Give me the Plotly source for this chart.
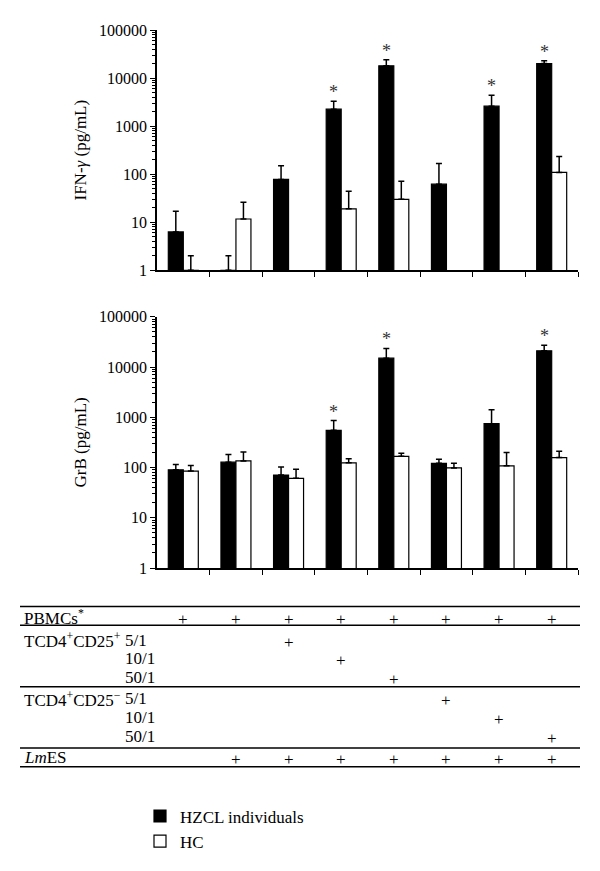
import math
import plotly.graph_objects as go

# conditions (8 culture conditions along x)
conds = list(range(8))

# IFN-gamma (pg/mL): bar height and top of error bar
hzcl_ifn = [6.3, 1, 78, 2250, 18000, 62, 2600, 20000]
hzcl_ifn_top = [17, 2, 150, 3300, 24000, 166, 4400, 23000]
hc_ifn = [1, 11.7, None, 19, 30, None, None, 109]
hc_ifn_top = [2, 26, None, 44, 71, None, None, 233]

# GrB (pg/mL)
hzcl_grb = [90, 128, 71, 550, 15000, 121, 745, 21000]
hzcl_grb_top = [115, 181, 102, 860, 23500, 146, 1420, 27000]
hc_grb = [85, 135, 61, 124, 167, 98, 108, 158]
hc_grb_top = [110, 204, 92, 150, 192, 122, 200, 210]

# significant conditions (*)
sig_ifn = [3, 4, 6, 7]
sig_grb = [3, 4, 7]

# table under the chart
row_labels = ["PBMCs<sup>*</sup>", "TCD4<sup>+</sup>CD25<sup>+</sup>", "", "",
              "TCD4<sup>+</sup>CD25<sup>−</sup>", "", "", "<i>Lm</i>ES"]
row_ratios = ["", "5/1", "10/1", "50/1", "5/1", "10/1", "50/1", ""]
row_marks = [
    [1, 1, 1, 1, 1, 1, 1, 1],
    [0, 0, 1, 0, 0, 0, 0, 0],
    [0, 0, 0, 1, 0, 0, 0, 0],
    [0, 0, 0, 0, 1, 0, 0, 0],
    [0, 0, 0, 0, 0, 1, 0, 0],
    [0, 0, 0, 0, 0, 0, 1, 0],
    [0, 0, 0, 0, 0, 0, 0, 1],
    [0, 1, 1, 1, 1, 1, 1, 1],
]

# page body has an 8px margin, so the figure is drawn 8px smaller
OFF = 8
W, H = 600 - OFF, 871 - OFF
ML, MR, MT, MB = 157 - OFF, 22, 30 - OFF, 871 - 574
FONT = "Liberation Serif"
bargap = 0.43


def px(x):
    return (x - OFF - ML) / (W - ML - MR)


def py(y):
    return (H - MB - (y - OFF)) / (H - MT - MB)


def err(vals, tops):
    return [t - v if v is not None else 0 for v, t in zip(vals, tops)]


fig = go.Figure()

def add_bars(vals, tops, color, name, xa, ya, show):
    fig.add_trace(go.Bar(
        x=conds, y=vals, name=name, xaxis=xa, yaxis=ya, showlegend=show,
        offsetgroup=name, legendgroup=name,
        marker=dict(color=color, line=dict(color="black", width=1.2)),
        error_y=dict(type="data", symmetric=False, array=err(vals, tops),
                     arrayminus=[0] * len(vals), color="black", thickness=1.5, width=3),
    ))

add_bars(hzcl_ifn, hzcl_ifn_top, "black", "HZCL individuals", "x", "y", True)
add_bars(hc_ifn, hc_ifn_top, "white", "HC", "x", "y", True)
add_bars(hzcl_grb, hzcl_grb_top, "black", "HZCL individuals", "x2", "y2", False)
add_bars(hc_grb, hc_grb_top, "white", "HC", "x2", "y2", False)

bw = (1 - bargap) / 2
annots = []
for i in sig_ifn:
    annots.append(dict(x=i - bw / 2, y=math.log10(hzcl_ifn_top[i]), xref="x", yref="y",
                       text="*", showarrow=False, yanchor="bottom", yshift=-3,
                       font=dict(size=18, color="#333", family=FONT)))
for i in sig_grb:
    annots.append(dict(x=i - bw / 2, y=math.log10(hzcl_grb_top[i]), xref="x2", yref="y2",
                       text="*", showarrow=False, yanchor="bottom", yshift=-3,
                       font=dict(size=18, color="#333", family=FONT)))

# table
row_y = [624, 647, 666, 685, 706, 725, 744, 766]
for r, (lab, ratio, marks) in enumerate(zip(row_labels, row_ratios, row_marks)):
    if lab:
        annots.append(dict(x=px(22), y=py(row_y[r]), xref="paper", yref="paper", text=lab,
                           showarrow=False, xanchor="left", yanchor="middle",
                           font=dict(size=17, color="black", family=FONT)))
    if ratio:
        annots.append(dict(x=px(123), y=py(row_y[r]), xref="paper", yref="paper", text=ratio,
                           showarrow=False, xanchor="left", yanchor="middle",
                           font=dict(size=17, color="black", family=FONT)))
    for c, m in zip(conds, marks):
        if m:
            annots.append(dict(x=c, y=py(row_y[r]), xref="x", yref="paper", text="+",
                               showarrow=False, xanchor="center", yanchor="middle", yshift=-2,
                               font=dict(size=17, color="black", family=FONT)))

shapes = []
for yl in [613, 632, 694, 756, 775]:
    shapes.append(dict(type="line", xref="paper", yref="paper", x0=px(20), x1=px(580),
                       y0=py(yl), y1=py(yl), line=dict(color="black", width=1.5)))

yax = dict(type="log", range=[0, 5], showline=True, linecolor="black", linewidth=1.5,
           ticks="outside", ticklen=5, tickcolor="black", tickwidth=1.2,
           tickvals=[1, 10, 100, 1000, 10000, 100000],
           ticktext=["1", "10", "100", "1000", "10000", "100000"],
           showgrid=False, zeroline=False,
           minor=dict(ticks="outside", ticklen=3, tickcolor="black", tickwidth=0.8,
                      dtick="D1", showgrid=False),
           tickfont=dict(size=16, color="black", family=FONT))
xax = dict(range=[-0.5, 7.5], showline=True, linecolor="black", linewidth=1.5,
           ticks="outside", ticklen=5, tickcolor="black", tickwidth=1.2,
           tickvals=[c + 0.5 for c in conds], showticklabels=False,
           showgrid=False, zeroline=False)

fig.update_layout(
    width=W, height=H, margin=dict(l=ML, r=MR, t=MT, b=MB),
    paper_bgcolor="white", plot_bgcolor="white",
    barmode="group", bargap=bargap, bargroupgap=0,
    font=dict(family=FONT, color="black", size=16),
    xaxis=dict(xax, anchor="y"),
    xaxis2=dict(xax, anchor="y2", matches="x"),
    yaxis=dict(yax, domain=[py(273), 1], anchor="x",
               title=dict(text="IFN-<i>γ</i> (pg/mL)", standoff=8,
                          font=dict(size=17, family=FONT))),
    yaxis2=dict(yax, domain=[0, py(320)], anchor="x2",
                title=dict(text="GrB (pg/mL)", standoff=8,
                           font=dict(size=17, family=FONT))),
    annotations=annots, shapes=shapes,
    legend=dict(x=px(140), y=py(807), xanchor="left", yanchor="top",
                bgcolor="rgba(0,0,0,0)", font=dict(size=17, family=FONT, color="black"),
                tracegroupgap=0),
)

fig.write_html("out.html")
